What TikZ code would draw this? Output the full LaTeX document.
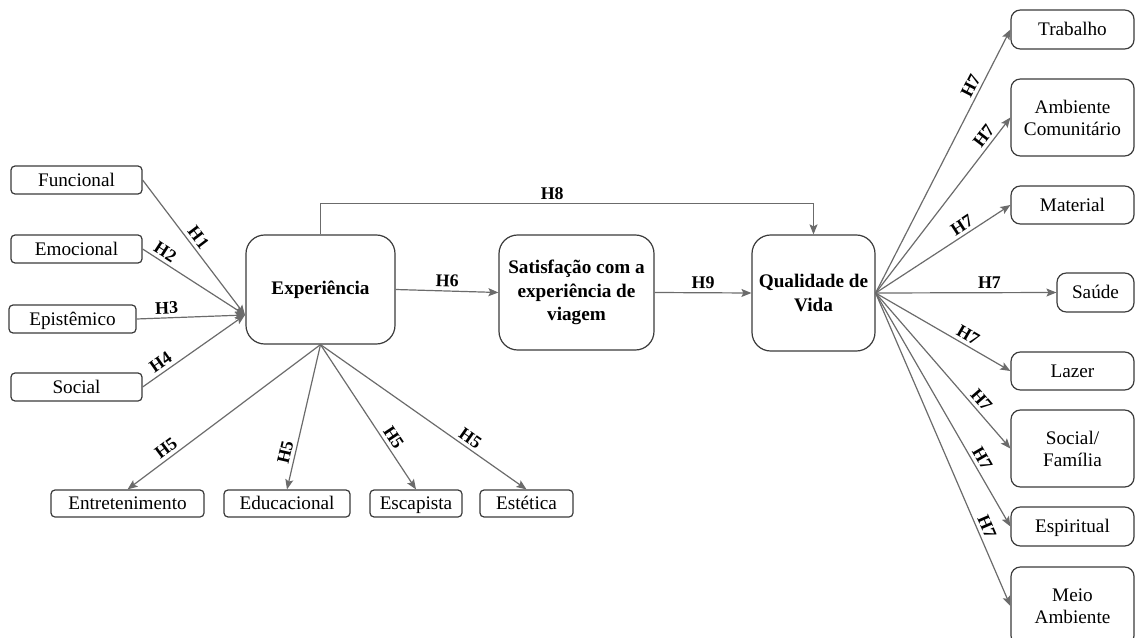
\documentclass[tikz,border=0pt]{standalone}
\usepackage{fontspec}
\setmainfont{Liberation Serif}
\usetikzlibrary{arrows.meta}

\definecolor{linegray}{HTML}{6B6B6B}
\definecolor{boxline}{HTML}{3A3A3A}

\tikzset{
  box/.style={draw=boxline, line width=0.9pt, rounded corners=3pt, inner sep=0pt,
              align=center, font=\fontsize{14.4}{16.5}\selectfont},
  oneline/.style={text height=11.5pt, text depth=2.5pt},
  inbox/.style={box, oneline, minimum width=98.25pt, minimum height=21pt},
  outbox/.style={box, oneline, minimum height=20.25pt},
  dimbox/.style={box, minimum width=92.25pt, rounded corners=7pt},
  bigbox/.style={box, rounded corners=14pt, font=\fontsize{14.4}{17.6}\selectfont\bfseries},
  link/.style={draw=linegray, line width=0.9pt,
               -{Stealth[length=7.5pt, width=6pt, inset=1.5pt]}},
  hyp/.style={font=\fontsize{13.4}{14}\selectfont\bfseries, sloped, above, inner sep=2.5pt},
}

\begin{document}
\begin{tikzpicture}[x=0.75pt, y=-0.75pt]
          \clip (0,0) rectangle (1135,638);

          \node[inbox] (func) at (76.5, 180) {Funcional};
          \node[inbox] (emoc) at (76.5, 249) {Emocional};
          \node[inbox, minimum width=95.25pt] (epis) at (72.5, 319) {Epistêmico};
          \node[inbox] (soc)  at (76.5, 387) {Social};

          \node[bigbox, minimum width=111.75pt, minimum height=81.75pt] (exp)  at (320.5, 289.5) {Experiência};
          \node[bigbox, minimum width=116.25pt, minimum height=86.25pt] (sat)  at (576.5, 292.5) {Satisfação com a\\experiência de\\viagem};
          \node[bigbox, minimum width=92.25pt,  minimum height=87pt]    (qual) at (813.5, 293)   {Qualidade de\\Vida};
          \coordinate (expin) at (245, 315);

          \node[outbox, minimum width=114.75pt] (entr) at (127.5, 503.5) {Entretenimento};
          \node[outbox, minimum width=94.5pt]   (educ) at (287,   503.5) {Educacional};
          \node[outbox, minimum width=69pt]     (esca) at (416,   503.5) {Escapista};
          \node[outbox, minimum width=69.75pt]  (este) at (526.5, 503.5) {Estética};

          \node[dimbox, oneline, minimum height=29.25pt] (trab) at (1072.5, 29.5)  {Trabalho};
          \node[dimbox, minimum height=57.75pt]          (amb)  at (1072.5, 117.5) {Ambiente\\Comunitário};
          \node[dimbox, oneline, minimum height=28.5pt]  (mat)  at (1072.5, 205)   {Material};
          \node[dimbox, oneline, minimum width=57.75pt, minimum height=29.25pt] (sau) at (1095.5, 292.5) {Saúde};
          \node[dimbox, oneline, minimum height=28.5pt]  (laz)  at (1072.5, 371)   {Lazer};
          \node[dimbox, minimum height=57.75pt]          (socfam) at (1072.5, 448.5) {Social/\\Família};
          \node[dimbox, oneline, minimum height=29.25pt] (esp)  at (1072.5, 526.5) {Espiritual};
          \node[dimbox, minimum height=58.5pt]           (meio) at (1072.5, 606)   {Meio\\Ambiente};

          \draw[link] (func.east) -- (expin) node[hyp, pos=0.47] {H1};
          \draw[link] (emoc.east) -- (expin) node[hyp, pos=0.17] {H2};
          \draw[link] (epis.east) -- (expin) node[hyp, pos=0.28] {H3};
          \draw[link] (soc.east)  -- (expin) node[hyp, pos=0.23] {H4};

          \draw[link] (exp.south) -- (entr.north) node[hyp, pos=0.77] {H5};
          \draw[link] (exp.south) -- (educ.north) node[hyp, pos=0.76] {H5};
          \draw[link] (exp.south) -- (esca.north) node[hyp, pos=0.68] {H5};
          \draw[link] (exp.south) -- (este.north) node[hyp, pos=0.70] {H5};

          \draw[link] (exp.east) -- (sat.west)  node[hyp, midway] {H6};
          \draw[link] (sat.east) -- (qual.west) node[hyp, midway] {H9};
          \draw[link] (exp.north) -- ++(0,-31) -| (qual.north) node[hyp, pos=0.235] {H8};

          \draw[link] (qual.east) -- (trab.west)   node[hyp, pos=0.77] {H7};
          \draw[link] (qual.east) -- (amb.west)    node[hyp, pos=0.86] {H7};
          \draw[link] (qual.east) -- (mat.west)    node[hyp, pos=0.68] {H7};
          \draw[link] (qual.east) -- (sau.west)    node[hyp, pos=0.63] {H7};
          \draw[link] (qual.east) -- (laz.west)    node[hyp, pos=0.65] {H7};
          \draw[link] (qual.east) -- (socfam.west) node[hyp, pos=0.73] {H7};
          \draw[link] (qual.east) -- (esp.west)    node[hyp, pos=0.73] {H7};
          \draw[link] (qual.east) -- (meio.west)   node[hyp, pos=0.76] {H7};
\end{tikzpicture}
\end{document}
